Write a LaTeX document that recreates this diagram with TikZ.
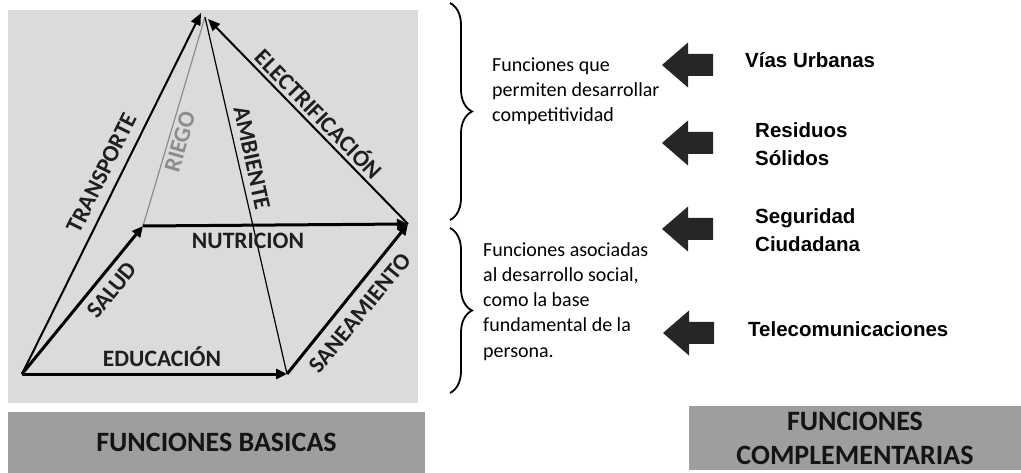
\documentclass[tikz,border=0pt]{standalone}
\usepackage{fontspec}
\setmainfont{Carlito}
\newfontfamily\arialf{Liberation Sans}
\usetikzlibrary{arrows.meta,decorations.pathreplacing}
\begin{document}
\begin{tikzpicture}[x=1pt,y=-1pt,
  lbl/.style={font=\bfseries\fontsize{23.5}{26}\selectfont, text=black!88, inner sep=0pt},
  thickarr/.style={line width=3pt, -{Triangle[length=11pt,width=10pt]}},
  medarr/.style={line width=2pt, -{Triangle[length=12pt,width=10pt]}},
  thinln/.style={line width=1.2pt},
  bracestyle/.style={decorate, decoration={brace, amplitude=22pt}, line width=1.8pt},
  desc/.style={font=\fontsize{20}{25}\selectfont, inner sep=0pt, anchor=base west},
  rlabel/.style={font=\arialf\bfseries\fontsize{20.5}{28}\selectfont, inner sep=0pt, anchor=base west},
  graybox/.style={fill=black!38, inner sep=0pt, align=center, font=\bfseries\fontsize{28}{34}\selectfont, text=black!92},
  larrow/.pic={\fill[black!85] (0,0) -- (26,-22.5) -- (26,-11) -- (51,-11) -- (51,11) -- (26,11) -- (26,22.5) -- cycle;}
]
\useasboundingbox (0,0) rectangle (1021,473);
% pyramid background
\fill[black!14] (8,10) rectangle (418,403);
% vertices
\coordinate (A) at (22,374);
\coordinate (B) at (287,374);
\coordinate (C) at (143,226);
\coordinate (D) at (408,224);
\coordinate (T) at (205,17);
\coordinate (T1) at (201,13);
\coordinate (T2) at (208,19);
% edges
\draw[thinln, black!45] (C) -- (T);
\draw[thinln] (B) -- (T);
\draw[medarr] (A) -- (T1);
\draw[medarr] (D) -- (T2);
\draw[thickarr] (A) -- (C);
\draw[thickarr] (C) -- (D);
\draw[thickarr] (A) -- (B);
\draw[thickarr] (B) -- (D);
% labels
\node[lbl, rotate=63.6] (ltra) at (102,173) {TRANSPORTE};
\node[lbl, rotate=74, text=black!45] (lrie) at (180,142) {RIEGO};
\node[lbl, rotate=-77.7] (lamb) at (252,158) {AMBIENTE};
\node[lbl, rotate=-45.8] (lele) at (320,113) {ELECTRIFICACIÓN};
\node[lbl] (lnut) at (248,241) {NUTRICION};
\node[lbl, rotate=50.7] (lsal) at (112,290) {SALUD};
\node[lbl] (ledu) at (162,357) {EDUCACIÓN};
\node[lbl, rotate=51] (lsan) at (360,313) {SANEAMIENTO};
% braces
\draw[bracestyle] (450,3) -- (450,220);
\draw[bracestyle] (450,228) -- (450,393);
% descriptions
\node[desc] (d1a) at (492,72) {Funciones que};
\node[desc] (d1b) at (492,97) {permiten desarrollar};
\node[desc] (d1c) at (492,122) {competitividad};
\node[desc] (d2a) at (483,257) {Funciones asociadas};
\node[desc] (d2b) at (483,282) {al desarrollo social,};
\node[desc] (d2c) at (483,307) {como la base};
\node[desc] (d2d) at (483,332) {fundamental de la};
\node[desc] (d2e) at (483,357) {persona.};
% block arrows
\pic (arr1) at (662,65) {larrow};
\pic (arr2) at (662,143) {larrow};
\pic (arr3) at (662,229) {larrow};
\pic (arr4) at (663,333) {larrow};
% complementary labels
\node[rlabel] (r1) at (745,68) {Vías Urbanas};
\node[rlabel] (r2a) at (755,138) {Residuos};
\node[rlabel] (r2b) at (755,166) {Sólidos};
\node[rlabel] (r3a) at (755,224) {Seguridad};
\node[rlabel] (r3b) at (755,252) {Ciudadana};
\node[rlabel] (r4) at (748,337) {Telecomunicaciones};
% bottom boxes
\node[graybox, minimum width=417pt, minimum height=61pt] (fb) at (216.5,442.5) {FUNCIONES BASICAS};
\node[graybox, minimum width=332pt, minimum height=64pt] (fc) at (855,438) {FUNCIONES\\COMPLEMENTARIAS};
\end{tikzpicture}
\end{document}
